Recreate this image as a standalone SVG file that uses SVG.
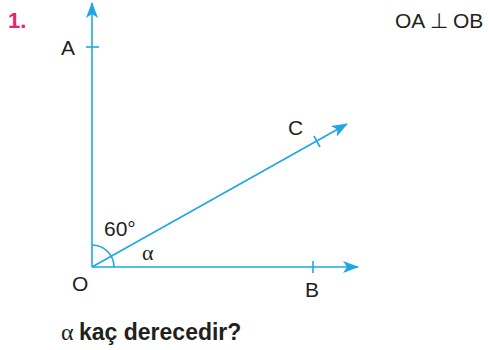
<svg xmlns="http://www.w3.org/2000/svg" width="489" height="350" viewBox="0 0 489 350">
<style>
.ln{stroke:#1ea7e4;stroke-width:1.6;fill:none}
.t{font-family:"Liberation Sans",Arial,sans-serif;font-size:21px;fill:#231f20}
.b{font-weight:bold}
.g{font-family:"Liberation Serif","Times New Roman",serif;font-size:22px;fill:#231f20}
</style>
<defs>
<marker id="arr" viewBox="0 0 16 12" refX="15" refY="6" markerWidth="16" markerHeight="12" markerUnits="userSpaceOnUse" orient="auto">
<path d="M0,0 L16,6 L0,12 L4,6 Z" fill="#1ea7e4"/>
</marker>
</defs>
<rect width="489" height="350" fill="#fff"/>
<text x="8" y="28" class="t b" style="fill:#e5246f;font-size:22px">1.</text>
<text x="395" y="28" class="t">OA</text>
<text x="430" y="28" class="t">⊥</text>
<text x="453" y="28" class="t">OB</text>
<g id="connectors">
<line class="ln" x1="92" y1="267" x2="92" y2="3" marker-end="url(#arr)"/>
<line class="ln" x1="92" y1="267" x2="358" y2="267" marker-end="url(#arr)"/>
<line class="ln" x1="92" y1="267" x2="347" y2="124" marker-end="url(#arr)"/>
<path class="ln" d="M92,245 A22,22 0 0 1 114,267"/>
<line class="ln" x1="86" y1="47" x2="99" y2="47"/>
<line class="ln" x1="313" y1="261" x2="313" y2="273"/>
<line class="ln" x1="314" y1="136" x2="320" y2="147"/>
</g>
<g id="A"><text x="61" y="55" class="t">A</text></g>
<g id="C"><text x="288" y="135" class="t">C</text></g>
<g id="B"><text x="305" y="297" class="t">B</text></g>
<g id="O"><text x="72" y="291" class="t">O</text></g>
<text x="104" y="236" class="t">60°</text>
<text x="142" y="260" class="g">α</text>
<text x="61" y="340" class="g" style="font-size:24px">α</text>
<text x="79" y="340" class="t b" style="font-size:23px">kaç derecedir?</text>
</svg>
